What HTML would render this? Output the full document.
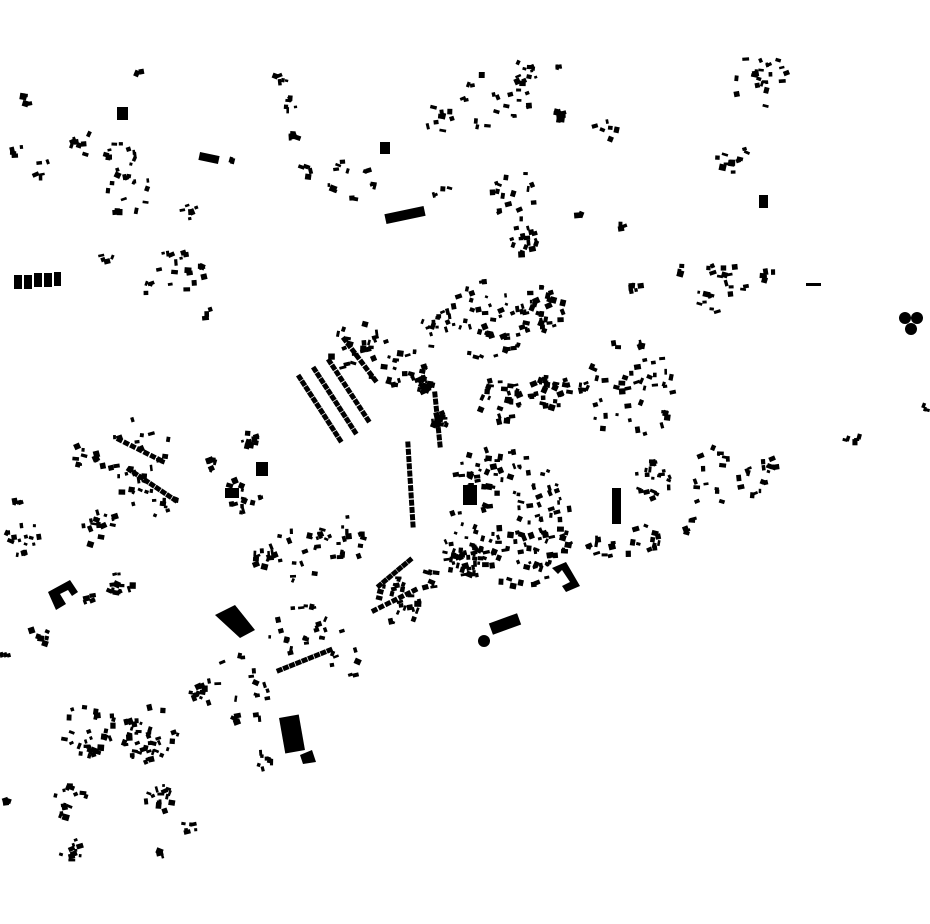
<!DOCTYPE html>
<html><head><meta charset="utf-8"><style>html,body{margin:0;padding:0;background:#fff}svg{display:block}</style></head>
<body>
<svg id="m" width="930" height="924" viewBox="0 0 930 924" xmlns="http://www.w3.org/2000/svg">
<g fill="#000">
<rect x="117" y="107" width="11" height="13"/>
<rect x="199" y="154" width="20" height="8" transform="rotate(12 209 158)"/>
<rect x="385" y="210" width="40" height="10" transform="rotate(-12 405 215)"/>
<rect x="380" y="142" width="10" height="12"/>
<rect x="759" y="195" width="9" height="13"/>
<rect x="806" y="283" width="15" height="3"/>
<circle cx="905" cy="318" r="6"/><circle cx="917" cy="318" r="6"/><circle cx="911" cy="329" r="6"/>
<rect x="256" y="462" width="12" height="14"/>
<rect x="612" y="488" width="9" height="36"/>
<path d="M48 592 L70 580 L78 592 L72 596 L68 590 L60 594 L66 604 L56 610 Z"/>
<path d="M552 568 L566 562 L580 586 L566 592 L562 586 L570 582 L562 570 L558 574 Z"/>
<rect x="490" y="618" width="30" height="12" transform="rotate(-20 505 624)"/>
<circle cx="484" cy="641" r="6"/>
<path d="M215 615 L235 605 L255 630 L240 638 Z"/>
<rect x="282" y="716" width="20" height="36" transform="rotate(-10 292 734)"/>
<path d="M300 755 L312 750 L316 762 L303 764 Z"/>
<rect x="14" y="275" width="8" height="14"/><rect x="24" y="275" width="8" height="14"/><rect x="34" y="273" width="8" height="14"/><rect x="44" y="273" width="8" height="14"/><rect x="54" y="272" width="7" height="14"/>
<rect x="463" y="485" width="14" height="20"/>
<rect x="225" y="488" width="14" height="10"/>
</g>
<g id="gen" fill="#000"></g>
</svg>
<script>
var s=12345;function r(){s=(s*1103515245+12345)%2147483648;return s/2147483648;}
var C=[[25,100,8,5],[20,150,8,4],[42,170,12,5],[85,145,14,8],[125,160,20,16],[125,190,25,12],[232,163,4,2],[180,270,25,18],[190,215,12,6],[105,255,8,4],[150,288,8,4],[210,315,6,3],[140,72,4,2],
[282,75,8,5],[288,105,8,6],[295,135,6,5],[305,170,10,5],[350,185,25,14],[440,120,15,9],[495,100,35,22],[525,75,15,10],[560,65,4,3],[558,115,6,12],[605,132,12,6],[440,190,10,4],
[515,195,25,16],[525,240,15,16],[580,215,4,3],[622,225,4,3],[760,80,28,22],[730,160,20,12],[722,290,28,22],[765,275,10,5],[683,270,5,3],[635,290,8,6],
[490,320,40,50],[545,310,25,26],[440,330,20,15],[405,370,22,22],[425,385,8,20],[360,350,30,25],[630,390,50,50],[550,390,20,30],[500,400,22,26],[440,420,8,20],
[510,520,70,75],[480,470,25,25],[540,540,30,35],[470,560,20,20],[130,445,40,22],[150,490,30,18],[85,455,12,8],[250,440,8,10],[245,497,20,14],[210,465,6,6],
[25,540,20,15],[100,530,20,15],[120,585,15,12],[18,500,5,4],[90,600,6,5],[655,480,20,22],[710,475,30,15],[752,482,15,10],[850,440,10,5],[925,408,3,3],[770,465,8,8],
[300,555,30,20],[340,540,25,20],[262,560,10,10],[300,630,32,20],[400,600,25,25],[430,580,10,8],[460,560,20,20],[330,660,35,10],[240,690,35,20],[200,690,10,10],
[150,735,28,40],[90,730,28,30],[70,800,18,15],[160,800,15,15],[70,850,12,10],[160,855,4,3],[262,760,10,8],[5,800,4,3],[5,655,4,3],[190,825,8,6],[40,635,10,6],[640,540,20,12],[600,545,15,10],[690,525,12,6]];
var out='';
C.forEach(function(c){for(var i=0;i<c[3];i++){var a=r()*6.283,d=Math.sqrt(r());var x=c[0]+Math.cos(a)*c[2]*d,y=c[1]+Math.sin(a)*c[2]*d;var w=2.5+r()*4.5,h=2.5+r()*4;var rot=(r()*50-25).toFixed(0);out+='<rect x="'+(x-w/2).toFixed(1)+'" y="'+(y-h/2).toFixed(1)+'" width="'+w.toFixed(1)+'" height="'+h.toFixed(1)+'" transform="rotate('+rot+' '+x.toFixed(1)+' '+y.toFixed(1)+')"/>';}});
var L=[[300,378,340,440],[315,370,355,432],[330,362,368,420],[345,340,375,380],[120,440,160,460],[130,470,175,500],[380,585,410,560],[375,610,415,590],[280,670,330,650],[408,445,413,525],[435,395,440,445]];
L.forEach(function(l){var n=Math.round(Math.hypot(l[2]-l[0],l[3]-l[1])/7);var ang=Math.atan2(l[3]-l[1],l[2]-l[0])*180/Math.PI;for(var i=0;i<=n;i++){var x=l[0]+(l[2]-l[0])*i/n,y=l[1]+(l[3]-l[1])*i/n;out+='<rect x="'+(x-3.5)+'" y="'+(y-2.5)+'" width="6" height="5" transform="rotate('+ang.toFixed(0)+' '+x+' '+y+')"/>';}});
document.getElementById('gen').innerHTML=out;
</script>
</body></html>
